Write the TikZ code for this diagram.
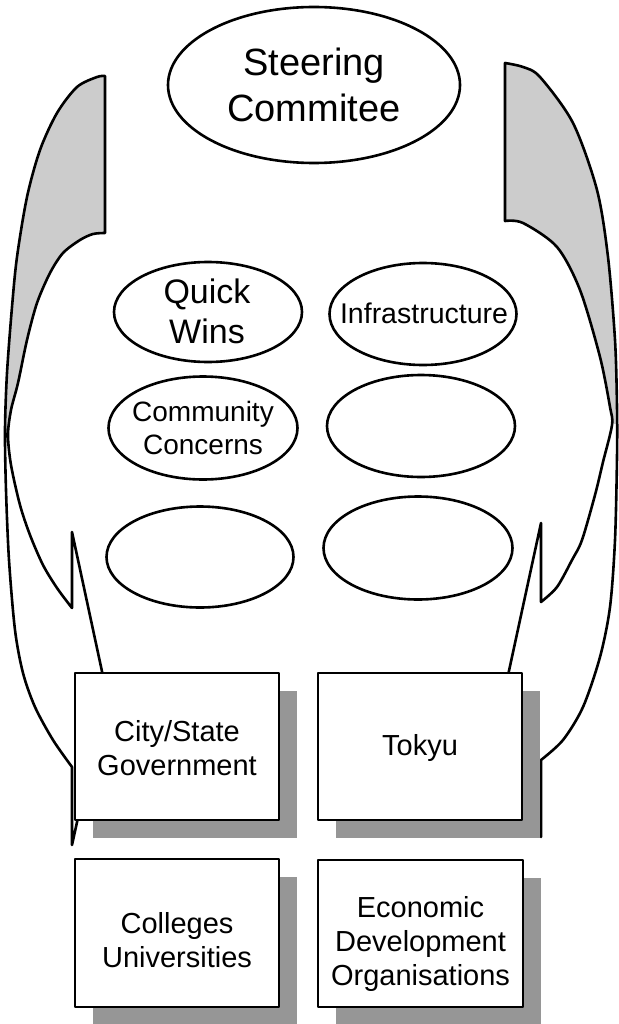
\documentclass[tikz,border=0pt]{standalone}
\usepackage{fontspec}
\setmainfont{Liberation Sans}
\usetikzlibrary{shapes.geometric,shadows}
\definecolor{bandgray}{HTML}{CCCCCC}
\definecolor{shadegray}{HTML}{969696}
\begin{document}
\begin{tikzpicture}[x=1pt,y=-1pt,line join=round,
  oval/.style={draw, ellipse, line width=2.6pt, fill=white, inner sep=0pt},
  txt/.style={align=center, inner sep=0pt},
  box/.style={draw, rectangle, line width=2.6pt, fill=white, minimum width=204pt, minimum height=147pt,
    drop shadow={shadow xshift=18pt, shadow yshift=-18pt, fill=shadegray, opacity=1}},
  bandline/.style={draw=black, line width=2.6pt},
  bandfill/.style={fill=bandgray}]
\useasboundingbox (0,0) rectangle (618,1024);

% left curved arrow
\path[save path=\leftshape]
  plot[smooth] coordinates {(105,76) (97,77) (77,87) (57,113) (40,150) (27,197) (17,257) (12,307) (7,373) (5,430) (6,490) (9,560) (15,630) (23,673) (35,707) (53,740) (72,767)}
  -- (72,845) -- (106,690) -- (72,532)
  -- plot[smooth] coordinates {(72,608) (57,588) (43,565) (30,535) (20,505) (11,465) (8,435) (11,410) (18,383) (27,340) (37,303) (50,273) (63,253) (80,240) (93,234) (105,233)}
  -- cycle;
% right curved arrow
\path[save path=\rightshape]
  plot[smooth] coordinates {(505,63) (523,67) (540,77) (573,123) (597,190) (608,257) (615,340) (617,407) (617,457) (615,540) (610,607) (600,657) (583,707) (563,740) (541,760)}
  -- (541,837) -- (507,680) -- (541,523)
  -- plot[smooth] coordinates {(541,602) (557,587) (572,560) (582,540) (595,495) (603,462) (612,425) (610,407) (600,357) (580,290) (557,247) (523,223) (505,221)}
  -- cycle;

\begin{scope}
  \clip (0,0) rectangle (309,436);
  \path[use path=\leftshape, bandfill];
\end{scope}
\begin{scope}
  \clip (309,0) rectangle (618,423);
  \path[use path=\rightshape, bandfill];
\end{scope}
\path[use path=\leftshape, bandline];
\path[use path=\rightshape, bandline];

% ellipses
\node[oval, minimum width=292pt, minimum height=156pt] (sc) at (314,85) {};
\node[txt, font=\fontsize{38}{46}\selectfont] (sc-t) at (314,85) {Steering\\Commitee};

\node[oval, minimum width=188pt, minimum height=100pt] (qw) at (208,312) {};
\node[txt, font=\fontsize{34}{40}\selectfont] (qw-t) at (207,311) {Quick\\Wins};

\node[oval, minimum width=187pt, minimum height=102pt] (inf) at (423,314) {};
\node[txt, font=\fontsize{28.5}{33}\selectfont] (inf-t) at (424,313) {Infrastructure};

\node[oval, minimum width=189pt, minimum height=103pt] (cc) at (203,428) {};
\node[txt, font=\fontsize{28}{33}\selectfont] (cc-t) at (203,428) {Community\\Concerns};

\node[oval, minimum width=188pt, minimum height=102pt] (e4) at (421,426) {};
\node[oval, minimum width=187pt, minimum height=101pt] (e5) at (200,557) {};
\node[oval, minimum width=189pt, minimum height=103pt] (e6) at (418,548) {};

% boxes
\node[box] (city) at (177,746.5) {};
\node[txt, font=\fontsize{29}{34}\selectfont] (city-t) at (177,748) {City/State\\Government};
\node[box] (tokyu) at (420,746.5) {};
\node[txt, font=\fontsize{29}{34}\selectfont] (tokyu-t) at (420,748) {Tokyu};
\node[box, minimum height=148pt] (coll) at (177,933) {};
\node[txt, font=\fontsize{29}{34}\selectfont] (coll-t) at (177,940) {Colleges\\Universities};
\node[box, minimum width=205pt] (econ) at (420.5,933.5) {};
\node[txt, font=\fontsize{29}{34}\selectfont] (econ-t) at (420.5,944) {Economic\\Development\\Organisations};
\end{tikzpicture}
\end{document}
